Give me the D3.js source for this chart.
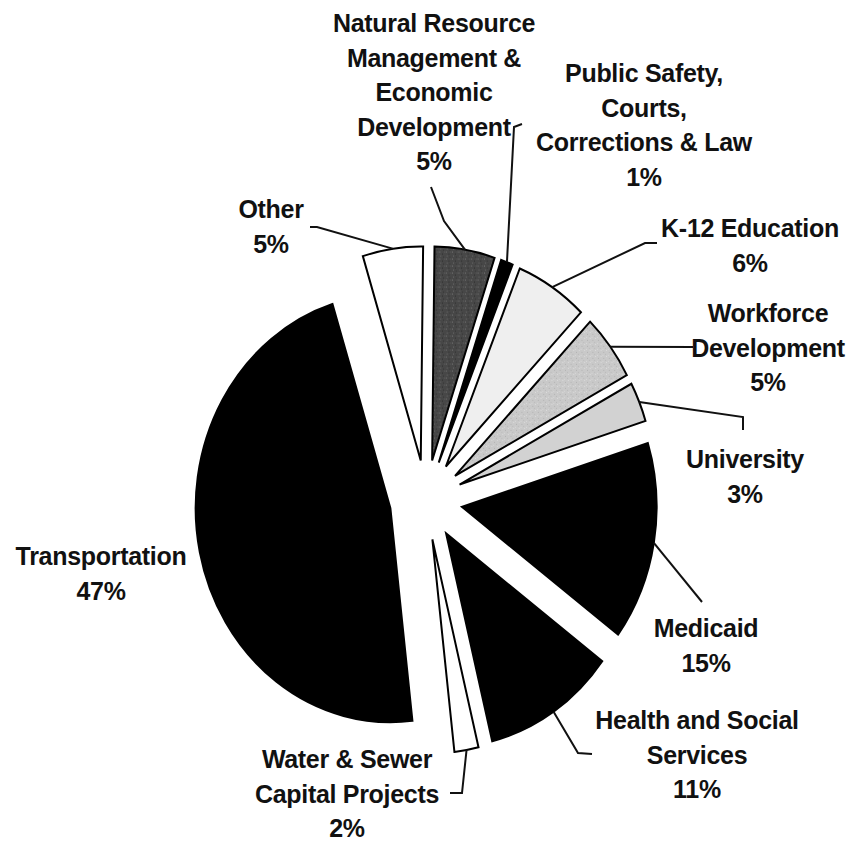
<!DOCTYPE html>
<html><head><meta charset="utf-8">
<script src="https://cdn.jsdelivr.net/npm/d3@7"></script>
<style>body{margin:0;background:#fff}svg{display:block}</style>
</head><body>
<svg id="c" width="848" height="847"></svg>
<script>
// ---- data ----
const categories = [
  "Natural Resource Management & Economic Development",
  "Public Safety, Courts, Corrections & Law",
  "K-12 Education",
  "Workforce Development",
  "University",
  "Medicaid",
  "Health and Social Services",
  "Water & Sewer Capital Projects",
  "Transportation",
  "Other"
];
const values = [5, 1, 6, 5, 3, 15, 11, 2, 47, 5];
const labelLines = [
  ["Natural Resource", "Management &", "Economic", "Development"],
  ["Public Safety,", "Courts,", "Corrections & Law"],
  ["K-12 Education"],
  ["Workforce", "Development"],
  ["University"],
  ["Medicaid"],
  ["Health and Social", "Services"],
  ["Water & Sewer", "Capital Projects"],
  ["Transportation"],
  ["Other"]
];

// ---- style / layout ----
const fills = ["url(#pDark)", "#000", "#efefef", "url(#pLight)", "#d2d2d2", "#000", "#000", "#fff", "#000", "#fff"];
const labelPos = [
  [434, 32], [644, 82], [750, 237], [768, 322], [745, 468],
  [706, 637], [697, 729], [347, 768], [101, 565], [271, 218]
];
const leaderTail = [
  [[444, 221], [431, 187]],
  [[514, 127], [522, 124]],
  [[645, 243], [657, 243]],
  [[693, 347]],
  [[743, 417], [743, 430]],
  [[702, 602]],
  [[578, 753], [592, 754]],
  [[462, 793], [450, 793]],
  null,
  [[317, 227], [310, 227]]
];
const cx = 426, cy = 500, R = 214, sx = 0.91, explode = 40, lineH = 34.5;
const start = 0.7 * Math.PI / 180;

const svg = d3.select("#c");

// textures
const defs = svg.append("defs");
const pd = defs.append("pattern").attr("id", "pDark").attr("patternUnits", "userSpaceOnUse")
  .attr("width", 7).attr("height", 7);
pd.append("rect").attr("width", 7).attr("height", 7).attr("fill", "#474747");
[[1, 1, "#7a7a7a"], [4, 3, "#2a2a2a"], [2, 5, "#6a6a6a"], [5, 6, "#333"], [6, 1, "#5c5c5c"]]
  .forEach(p => pd.append("rect").attr("x", p[0]).attr("y", p[1]).attr("width", 1).attr("height", 1).attr("fill", p[2]));
const pl = defs.append("pattern").attr("id", "pLight").attr("patternUnits", "userSpaceOnUse")
  .attr("width", 6).attr("height", 6);
pl.append("rect").attr("width", 6).attr("height", 6).attr("fill", "#c9c9c9");
[[1, 2, "#b0b0b0"], [4, 0, "#dedede"], [3, 4, "#b8b8b8"], [0, 5, "#d8d8d8"]]
  .forEach(p => pl.append("rect").attr("x", p[0]).attr("y", p[1]).attr("width", 1).attr("height", 1).attr("fill", p[2]));

const pie = d3.pie().sort(null).value(d => d).startAngle(start).endAngle(start + 2 * Math.PI);
const arcs = pie(values);
const arc = d3.arc().innerRadius(0).outerRadius(R);

const g = svg.append("g").attr("transform", `translate(${cx},${cy}) scale(${sx},1)`);
const mid = d => (d.startAngle + d.endAngle) / 2;
const off = d => [explode * Math.sin(mid(d)), -explode * Math.cos(mid(d))];

g.selectAll("path").data(arcs).join("path")
  .attr("d", arc)
  .attr("transform", d => { const o = off(d); return `translate(${o[0]},${o[1]})`; })
  .attr("fill", (d, i) => fills[i])
  .attr("stroke", "#000")
  .attr("stroke-width", 2)
  .attr("vector-effect", "non-scaling-stroke");

// leaders
const toScreen = (x, y) => [cx + sx * x, cy + y];
arcs.forEach((d, i) => {
  if (!leaderTail[i]) return;
  const o = off(d), m = mid(d);
  const p0 = toScreen(o[0] + R * Math.sin(m), o[1] - R * Math.cos(m));
  const pts = [p0].concat(leaderTail[i]);
  svg.append("path")
    .attr("d", d3.line()(pts))
    .attr("fill", "none").attr("stroke", "#111").attr("stroke-width", 2);
});

// labels
arcs.forEach((d, i) => {
  const lines = labelLines[i].concat([values[i] + "%"]);
  const t = svg.append("text")
    .attr("x", labelPos[i][0]).attr("y", labelPos[i][1])
    .attr("text-anchor", "middle")
    .attr("font-family", "'Liberation Sans', Arial, sans-serif")
    .attr("font-weight", "bold").attr("font-size", 25)
    .attr("letter-spacing", -0.3)
    .attr("fill", "#111");
  lines.forEach((l, k) => {
    t.append("tspan").attr("x", labelPos[i][0]).attr("y", labelPos[i][1] + k * lineH).text(l);
  });
});
</script>
</body></html>
